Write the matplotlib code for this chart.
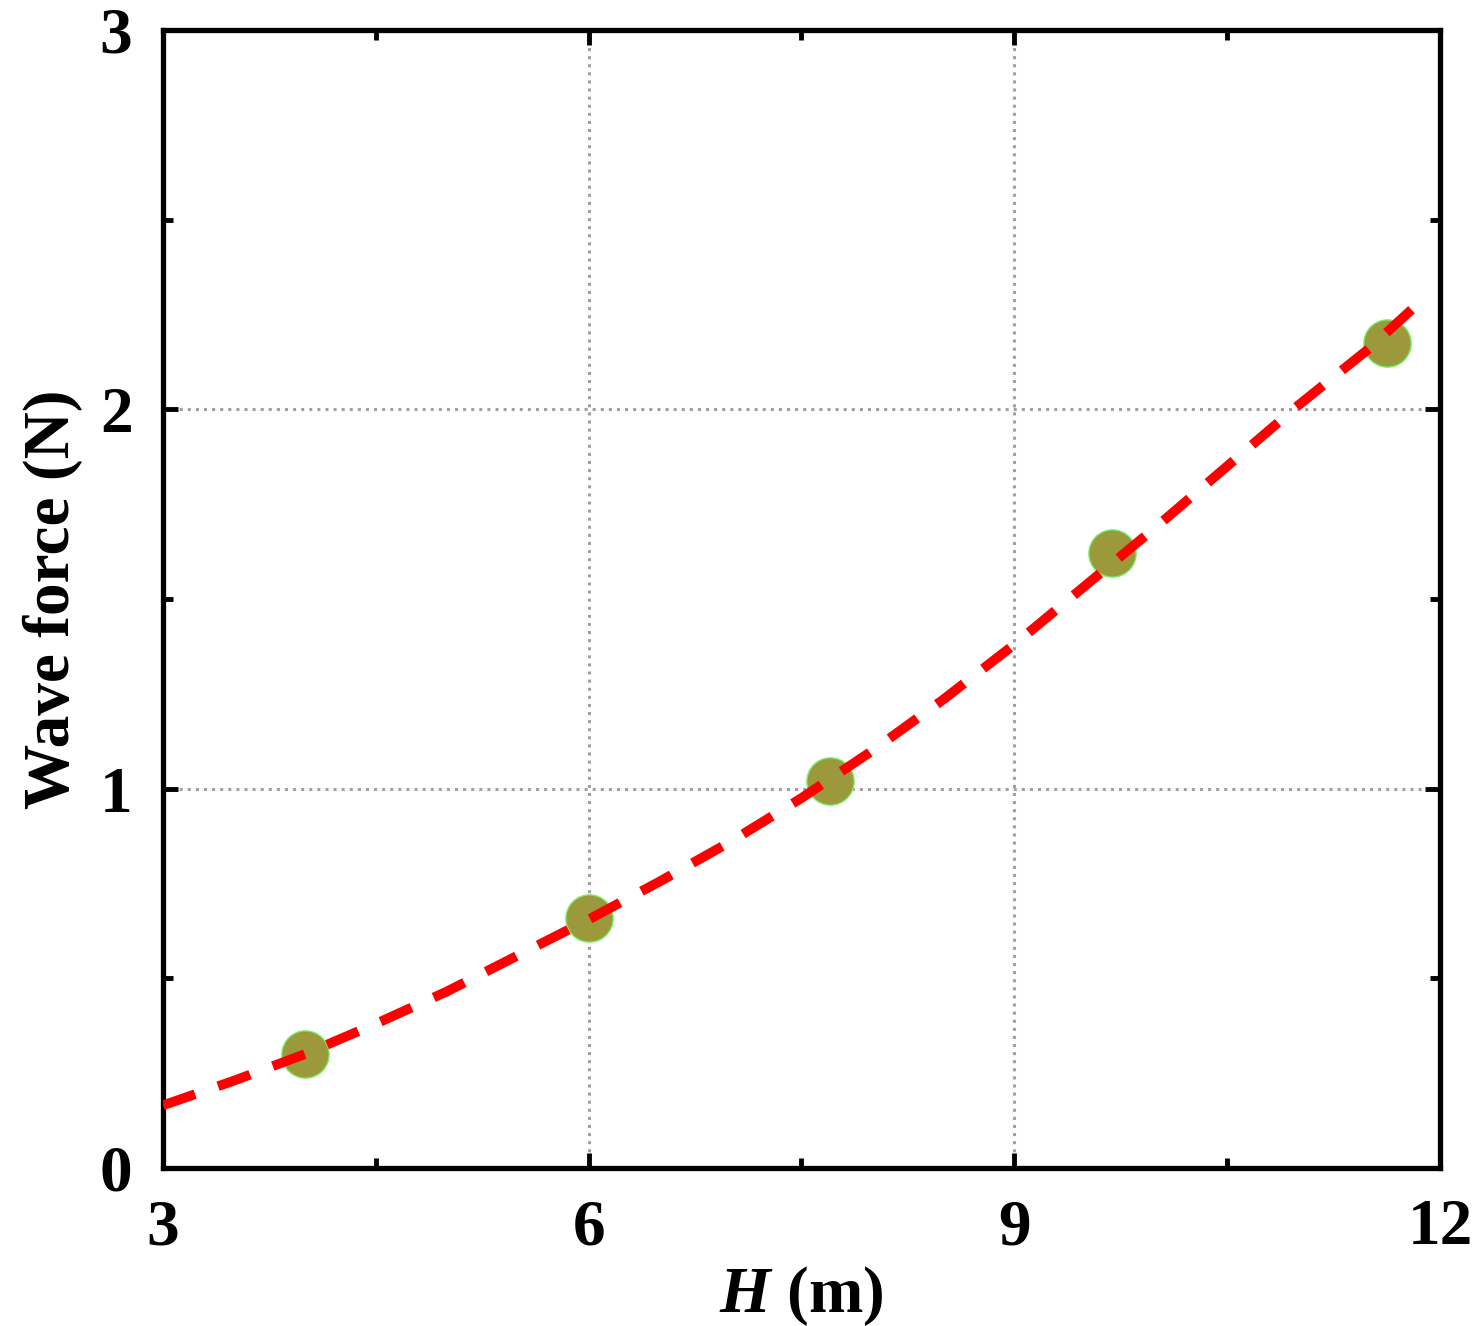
import matplotlib
matplotlib.use('Agg')
import matplotlib.pyplot as plt
from matplotlib.ticker import MultipleLocator

# measured points
wave_height = [4.0, 6.0, 7.7, 9.69, 11.63]
wave_force = [0.30, 0.66, 1.02, 1.62, 2.175]

# fitted curve
fit_h = [3.0, 3.5, 4.0, 4.5, 5.0, 5.5, 6.0, 6.5, 7.0, 7.5, 8.0, 8.5,
         9.0, 9.5, 10.0, 10.5, 11.0, 11.5, 11.85]
fit_f = [0.165, 0.23, 0.30, 0.38, 0.465, 0.56, 0.655, 0.755, 0.86, 0.975,
         1.10, 1.235, 1.38, 1.535, 1.69, 1.85, 2.01, 2.16, 2.28]

x_ticks = [3, 6, 9, 12]
y_ticks = [0, 1, 2, 3]

plt.rcParams['font.family'] = ['Liberation Serif', 'DejaVu Serif']
plt.rcParams['mathtext.fontset'] = 'custom'
plt.rcParams['mathtext.it'] = 'Liberation Serif:italic:bold'
plt.rcParams['mathtext.rm'] = 'Liberation Serif:bold'

fig = plt.figure(figsize=(14.76, 13.26), dpi=100)
ax = fig.add_axes([0.1104, 0.1192, 0.8652, 0.8582])

ax.plot(fit_h, fit_f, color='red', linewidth=7, dashes=(3.5, 2.5), zorder=3)
ax.plot(wave_height, wave_force, 'o', markersize=34, color='#9c983c',
        markeredgecolor='#77ee66', markeredgewidth=1, zorder=2)

ax.set_xlim(3, 12)
ax.set_ylim(0, 3)
ax.set_xticks(x_ticks)
ax.set_yticks(y_ticks)
ax.xaxis.set_minor_locator(MultipleLocator(1.5))
ax.yaxis.set_minor_locator(MultipleLocator(0.5))

ax.grid(True, which='major', linestyle=':', color='#a0a0a0', linewidth=2.2)
ax.tick_params(which='both', direction='in', top=True, right=True,
               width=3.5, labelsize=47, pad=22)
ax.tick_params(which='major', length=11)
ax.tick_params(which='minor', length=7)
for lbl in ax.get_xticklabels() + ax.get_yticklabels():
    lbl.set_fontweight('bold')
for sp in ax.spines.values():
    sp.set_linewidth(3.8)

ax.set_xlabel(r'$H$ (m)', fontsize=47, fontweight='bold', labelpad=4)
ax.set_ylabel('Wave force (N)', fontsize=47, fontweight='bold', labelpad=12)

plt.savefig('out.png', dpi=100)
plt.close()
